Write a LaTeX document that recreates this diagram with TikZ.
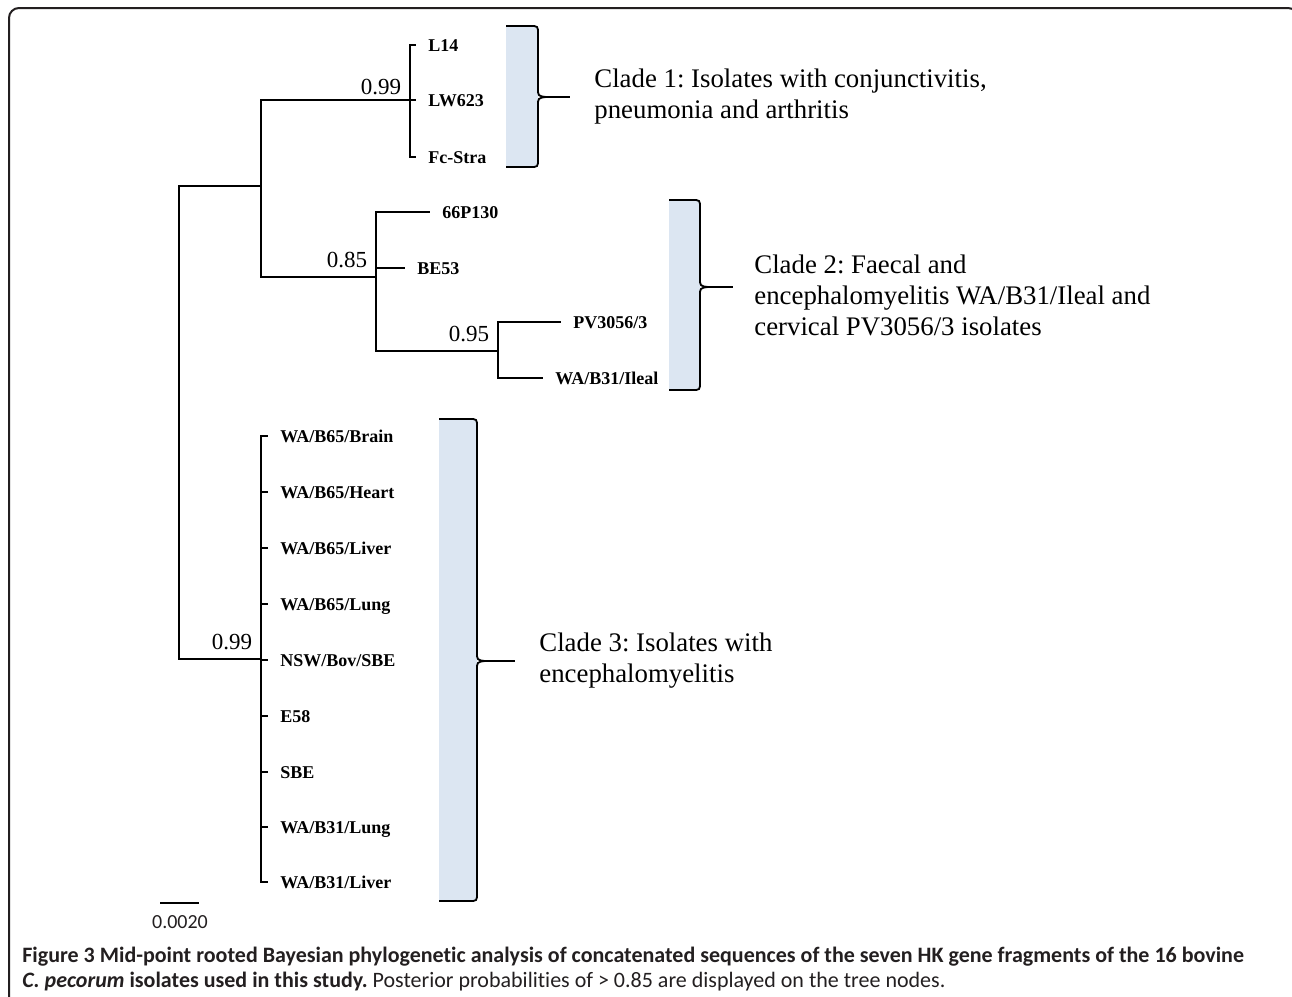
\documentclass[tikz,border=0pt]{standalone}
\usepackage{fontspec}
\usepackage{tikz}
\usepackage{xcolor}
\newfontfamily\treefont{Liberation Serif}
\newfontfamily\capfont[Ligatures=NoCommon]{Carlito}
\definecolor{cladeblue}{RGB}{220,230,242}
\definecolor{capgray}{RGB}{35,31,32}
\frenchspacing

\begin{document}
\begin{tikzpicture}[x=0.5pt,y=-0.5pt,
	branch/.style={line width=0.75pt},
	leaf/.style={font=\treefont\fontsize{9}{10}\selectfont\bfseries, anchor=west,
		inner xsep=6pt, inner ysep=0pt, text height=6.1pt, text depth=0pt},
	prob/.style={font=\treefont\fontsize{11.5}{13}\selectfont, anchor=south east,
		inner sep=2pt, xshift=-2.25pt, yshift=2.5pt},
	clade/.style={font=\treefont\fontsize{13.4}{15.5}\selectfont, anchor=west,
		align=left, inner sep=0pt},
	bracket/.style={line width=0.9pt},
	capline/.style={anchor=base west, inner sep=0pt, text=capgray,
		font=\capfont\fontsize{11}{13}\selectfont},
	frame/.style={line width=1pt, draw=capgray, rounded corners=5pt}]
	\useasboundingbox (0,0) rectangle (1292,997);
	\draw[frame] (9,8) rectangle (1298,1014);
	% inner nodes of the tree
	\coordinate (root) at (179,422);
	\coordinate (top) at (261,186);
	\coordinate (c1) at (410,100);
	\coordinate (c2) at (376,277);
	\coordinate (s2) at (498,351);
	\coordinate (c3) at (261,659);
	% leaves
	\node[leaf] (l14) at (416,45) {L14};
	\node[leaf] (lw623) at (416,100) {LW623};
	\node[leaf] (fcstra) at (416,157) {Fc-Stra};
	\node[leaf] (p130) at (430,212) {66P130};
	\node[leaf] (be53) at (405,268) {BE53};
	\node[leaf] (pv) at (561,322) {PV3056/3};
	\node[leaf] (ileal) at (543,378) {WA/B31/Ileal};
	\node[leaf] (brain) at (268,436) {WA/B65/Brain};
	\node[leaf] (heart) at (268,492) {WA/B65/Heart};
	\node[leaf] (liver) at (268,548) {WA/B65/Liver};
	\node[leaf] (lung) at (268,604) {WA/B65/Lung};
	\node[leaf] (nsw) at (268,660) {NSW/Bov/SBE};
	\node[leaf] (e58) at (268,716) {E58};
	\node[leaf] (sbe) at (268,772) {SBE};
	\node[leaf] (blung) at (268,827) {WA/B31/Lung};
	\node[leaf] (bliver) at (268,882) {WA/B31/Liver};
	% branches
	\draw[branch] (root) |- (top);
	\draw[branch] (root) |- (c3);
	\draw[branch] (top) |- (c1);
	\draw[branch] (top) |- (c2);
	\foreach \lf in {l14,lw623,fcstra}
		\draw[branch] (c1) |- (\lf.west);
	\foreach \lf in {p130,be53}
		\draw[branch] (c2) |- (\lf.west);
	\draw[branch] (c2) |- (s2);
	\foreach \lf in {pv,ileal}
		\draw[branch] (s2) |- (\lf.west);
	\foreach \lf in {brain,heart,liver,lung,nsw,e58,sbe,blung,bliver}
		\draw[branch] (c3) |- (\lf.west);
	% posterior probabilities
	\node[prob, yshift=-2pt] (pc1) at (c1) {0.99};
	\node[prob] (pc2) at (c2) {0.85};
	\node[prob] (ps2) at (s2) {0.95};
	\node[prob] (pc3) at (c3) {0.99};
	% clade brackets
	\foreach \n/\l/\t/\b/\r/\m/\x in {1/506/26/167/538/97/570,
		2/669/200/390/700/287/733, 3/439/419/901/477/661/515}{
		\fill[cladeblue] (\l,\t) -- ({\r-8},\t) .. controls (\r,\t) .. (\r,{\t+8})
			-- (\r,{\b-8}) .. controls (\r,\b) .. ({\r-8},\b) -- (\l,\b) -- cycle;
		\draw[bracket] (\l,\t) -- ({\r-8},\t) .. controls (\r,\t) .. (\r,{\t+8})
			-- (\r,{\m-9}) .. controls (\r,{\m-1}) .. ({\r+8},\m)
			.. controls (\r,{\m+1}) .. (\r,{\m+9})
			-- (\r,{\b-8}) .. controls (\r,\b) .. ({\r-8},\b) -- (\l,\b);
		\coordinate (cusp\n) at ({\r+8},\m);
		\coordinate (tip\n) at (\x,\m);
		\draw[bracket] (cusp\n) -- (tip\n);
	}
	\node[clade] (t1) at ([xshift=12pt]tip1) {Clade 1: Isolates with conjunctivitis,\\pneumonia and arthritis};
	\node[clade, yshift=-4pt] (t2) at ([xshift=10.5pt]tip2) {Clade 2: Faecal and\\encephalomyelitis WA/B31/Ileal and\\cervical PV3056/3 isolates};
	\node[clade] (t3) at ([xshift=12pt]tip3) {Clade 3: Isolates with\\encephalomyelitis};
	% scale bar
	\coordinate (sbl) at (160,903);
	\coordinate (sbr) at (199,903);
	\draw[branch] (sbl) -- (sbr);
	\node[capline, anchor=center, font=\capfont\fontsize{10}{12}\selectfont] (sb) at (180,922) {0.0020};
	% caption
	\node[capline] (cap1) at (22,962) {\bfseries Figure 3 Mid-point rooted Bayesian phylogenetic analysis of concatenated sequences of the seven HK gene fragments of the 16 bovine};
	\node[capline] (cap2) at (22,987) {\textbf{\textit{C. pecorum} isolates used in this study.} Posterior probabilities of > 0.85 are displayed on the tree nodes.};
\end{tikzpicture}
\end{document}
